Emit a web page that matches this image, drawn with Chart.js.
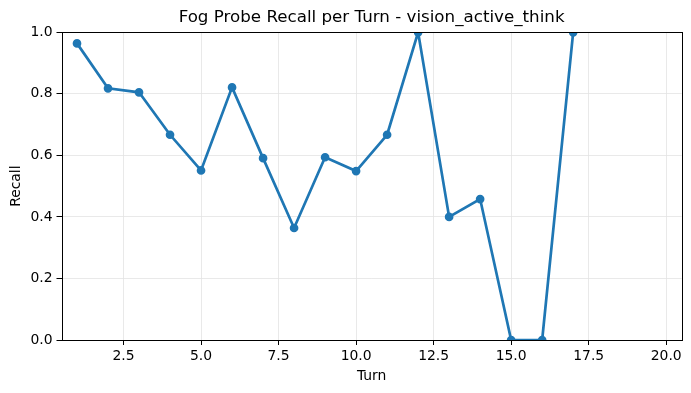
<!DOCTYPE html>
<html>
<head>
<meta charset="utf-8">
<script src="https://cdn.jsdelivr.net/npm/chart.js@4"></script>
<style>
  body { margin: 0; background: #fff; }
  canvas { display: block; }
</style>
</head>
<body>
<canvas id="chart" width="691" height="393"></canvas>
<script>
const TITLE = "Fog Probe Recall per Turn - vision_active_think";
const turns = [1, 2, 3, 4, 5, 6, 7, 8, 9, 10, 11, 12, 13, 14, 15, 16, 17];
const recall = [0.964, 0.818, 0.805, 0.667, 0.551, 0.821, 0.591, 0.364, 0.594, 0.549, 0.667, 1.0, 0.4, 0.458, 0, 0, 1.0];
const xTicks = [2.5, 5, 7.5, 10, 12.5, 15, 17.5, 20];
const yTicks = [0, 0.2, 0.4, 0.6, 0.8, 1.0];

const FONT = "'DejaVu Sans', sans-serif";

// title, axis labels and the four spines
const frame = {
  id: "frame",
  afterDraw(c) {
    const ctx = c.ctx, a = c.chartArea;
    ctx.save();
    ctx.strokeStyle = "#000";
    ctx.lineWidth = 1;
    ctx.strokeRect(Math.round(a.left) + 0.5, Math.round(a.top) + 0.5,
      Math.round(a.right - a.left), Math.round(a.bottom - a.top));
    ctx.fillStyle = "#000";
    ctx.textAlign = "center";
    ctx.textBaseline = "middle";
    ctx.font = "16.7px " + FONT;
    ctx.fillText(TITLE, (a.left + a.right) / 2, 18);
    ctx.font = "13.9px " + FONT;
    ctx.fillText("Turn", (a.left + a.right) / 2, 376);
    ctx.translate(16, (a.top + a.bottom) / 2);
    ctx.rotate(-Math.PI / 2);
    ctx.fillText("Recall", 0, 0);
    ctx.restore();
  }
};

new Chart(document.getElementById("chart"), {
  type: "line",
  data: {
    datasets: [{
      data: turns.map((t, i) => ({ x: t, y: recall[i] })),
      borderColor: "#1f77b4",
      backgroundColor: "#1f77b4",
      borderWidth: 2.7,
      pointRadius: 3,
      pointHoverRadius: 3,
      tension: 0,
      clip: 0
    }]
  },
  options: {
    responsive: false,
    animation: false,
    devicePixelRatio: 1,
    events: [],
    layout: { padding: { left: 0, right: 9.3, top: 32.3, bottom: 0 } },
    plugins: { legend: { display: false }, title: { display: false }, tooltip: { enabled: false } },
    scales: {
      x: {
        type: "linear",
        min: 0.5,
        max: 20.5,
        afterBuildTicks: s => { s.ticks = xTicks.map(v => ({ value: v })); },
        afterFit: s => { s.height = 53; },
        border: { display: false },
        grid: { color: "#e3e3e3", lineWidth: 0.8, tickColor: "#000", tickLength: 5, tickWidth: 1 },
        ticks: { color: "#000", font: { family: FONT, size: 13.9 }, padding: 3, maxRotation: 0,
          callback: v => Number(v).toFixed(1) }
      },
      y: {
        min: 0,
        max: 1,
        afterBuildTicks: s => { s.ticks = yTicks.map(v => ({ value: v })); },
        afterFit: s => { s.width = 61.5; },
        border: { display: false },
        grid: { color: "#e3e3e3", lineWidth: 0.8, tickColor: "#000", tickLength: 5, tickWidth: 1 },
        ticks: { color: "#000", font: { family: FONT, size: 13.9 }, padding: 4,
          callback: v => Number(v).toFixed(1) }
      }
    }
  },
  plugins: [frame]
});
</script>
</body>
</html>
